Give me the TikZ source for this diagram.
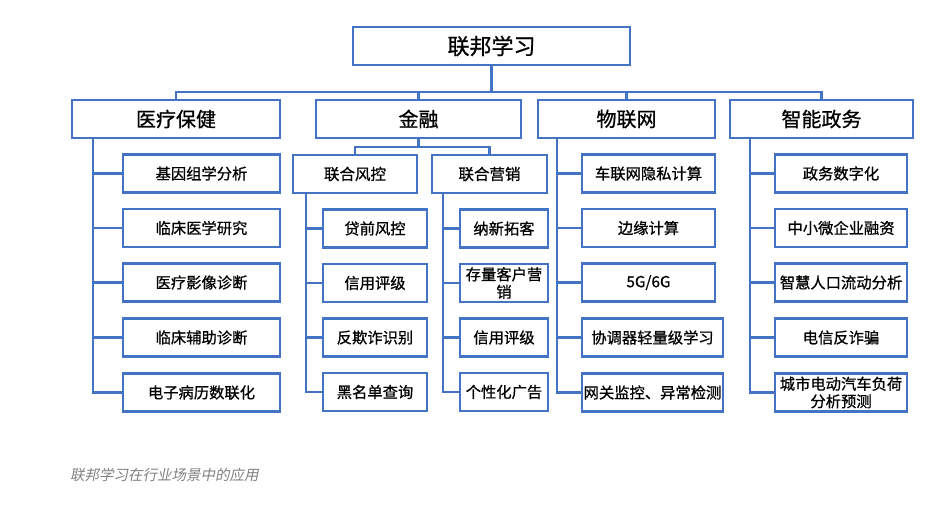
\documentclass[tikz,border=0pt]{standalone}
\usepackage{fontspec}
\setmainfont{Noto Sans CJK SC}[FakeBold=0.8]
\newfontfamily\capfont{Noto Sans CJK SC}[FakeSlant=0.2]
\definecolor{lineblue}{HTML}{4472C4}
\definecolor{capgray}{HTML}{808080}
\begin{document}
\begin{tikzpicture}[x=1pt,y=-1pt,
  box/.style={draw=lineblue, line width=2.8pt, fill=white, inner sep=0pt, align=center, text=black},
  rootbox/.style={box, font=\fontsize{22}{26}\selectfont},
  catbox/.style={box, minimum height=38pt, font=\fontsize{20}{24}\selectfont},
  leafbox/.style={box, minimum height=38pt, font=\fontsize{15.3}{18}\selectfont},
  link/.style={draw=lineblue, line width=2.2pt}]
\useasboundingbox (0,0) rectangle (941,508);
% root
\node[rootbox, minimum width=277pt, minimum height=38pt] (root) at (491.5,46) {联邦学习};
% level 1
\node[catbox, minimum width=208pt] (med) at (176,119) {医疗保健};
\node[catbox, minimum width=205pt] (fin) at (418.5,119) {金融};
\node[catbox, minimum width=177pt] (iot) at (626.5,119) {物联网};
\node[catbox, minimum width=183pt] (gov) at (821.5,119) {智能政务};
% bus
\coordinate (busy) at (0,92);
\draw[link] (root.south) -- (root.south |- busy);
\draw[link] (med.north) -- (med.north |- busy) -- (gov.north |- busy) -- (gov.north);
\draw[link] (fin.north) -- (fin.north |- busy);
\draw[link] (iot.north) -- (iot.north |- busy);
% medical children
\node[leafbox, minimum width=157pt] (m1) at (201.5,173.5) {基因组学分析};
\node[leafbox, minimum width=157pt] (m2) at (201.5,228) {临床医学研究};
\node[leafbox, minimum width=157pt] (m3) at (201.5,282.5) {医疗影像诊断};
\node[leafbox, minimum width=157pt] (m4) at (201.5,337.5) {临床辅助诊断};
\node[leafbox, minimum width=157pt] (m5) at (201.5,392.5) {电子病历数联化};
\coordinate (ms) at (93,138);
\foreach \c in {m1,m2,m3,m4,m5} \draw[link] (ms) |- (\c.west);
% finance
\node[catbox, minimum width=124pt, font=\fontsize{15.5}{18}\selectfont] (rk) at (355,174) {联合风控};
\node[catbox, minimum width=115pt, font=\fontsize{15.5}{18}\selectfont] (yx) at (489.5,174) {联合营销};
\coordinate (fy) at (0,147);
\draw[link] (fin.south) -- (fin.south |- fy);
\draw[link] (rk.north) -- (rk.north |- fy) -- (yx.north |- fy) -- (yx.north);
\node[leafbox, minimum width=104pt] (r1) at (375,228.5) {贷前风控};
\node[leafbox, minimum width=104pt] (r2) at (375,283) {信用评级};
\node[leafbox, minimum width=104pt] (r3) at (375,337.5) {反欺诈识别};
\node[leafbox, minimum width=104pt] (r4) at (375,392) {黑名单查询};
\coordinate (rs) at (306,193);
\foreach \c in {r1,r2,r3,r4} \draw[link] (rs) |- (\c.west);
\node[leafbox, minimum width=88pt] (y1) at (504,228.5) {纳新拓客};
\node[leafbox, minimum width=88pt, font=\fontsize{15.3}{17.5}\selectfont] (y2) at (504,283) {存量客户营\\销};
\node[leafbox, minimum width=88pt] (y3) at (504,337.5) {信用评级};
\node[leafbox, minimum width=88pt] (y4) at (504,392) {个性化广告};
\coordinate (ys) at (443,193);
\foreach \c in {y1,y2,y3,y4} \draw[link] (ys) |- (\c.west);
% iot children
\node[leafbox, minimum width=133pt] (i1) at (648.5,173.5) {车联网隐私计算};
\node[leafbox, minimum width=133pt] (i2) at (648.5,228) {边缘计算};
\node[leafbox, minimum width=133pt] (i3) at (648.5,282.5) {5G/6G};
\node[leafbox, minimum width=141pt] (i4) at (652.5,337.5) {协调器轻量级学习};
\node[leafbox, minimum width=141pt] (i5) at (652.5,392.5) {网关监控、异常检测};
\coordinate (is) at (557,138);
\foreach \c in {i1,i2,i3,i4,i5} \draw[link] (is) |- (\c.west);
% gov children
\node[leafbox, minimum width=132pt] (g1) at (841,173.5) {政务数字化};
\node[leafbox, minimum width=132pt] (g2) at (841,228) {中小微企业融资};
\node[leafbox, minimum width=132pt] (g3) at (841,282.5) {智慧人口流动分析};
\node[leafbox, minimum width=132pt] (g4) at (841,337.5) {电信反诈骗};
\node[leafbox, minimum width=132pt, font=\fontsize{15.3}{17.5}\selectfont] (g5) at (841,392.5) {城市电动汽车负荷\\分析预测};
\coordinate (gs) at (750,138);
\foreach \c in {g1,g2,g3,g4,g5} \draw[link] (gs) |- (\c.west);
% caption
\node[anchor=west, inner sep=0pt, text=capgray, font=\capfont\fontsize{14.5}{17}\selectfont] (cap) at (70,475) {联邦学习在行业场景中的应用};
\end{tikzpicture}
\end{document}
